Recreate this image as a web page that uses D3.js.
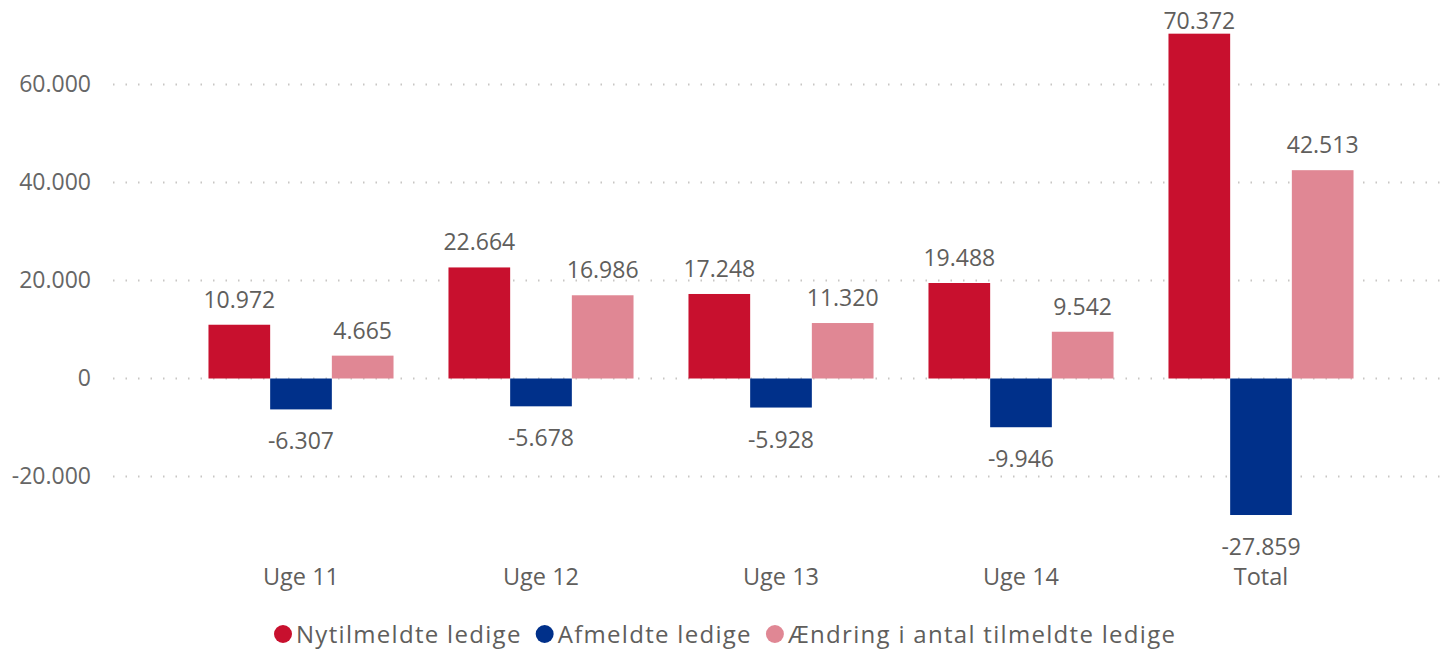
<!DOCTYPE html>
<html><head><meta charset="utf-8">
<script src="https://cdn.jsdelivr.net/npm/d3@7"></script>
<style>body{margin:0;background:#fff;}svg{display:block;font-family:"Open Sans","Noto Sans",sans-serif;}</style>
</head><body>
<svg id="chart" width="1447" height="651"></svg>
<script>
const categories = ["Uge 11", "Uge 12", "Uge 13", "Uge 14", "Total"];
const seriesNames = ["Nytilmeldte ledige", "Afmeldte ledige", "Ændring i antal tilmeldte ledige"];
const nytilmeldte = [10972, 22664, 17248, 19488, 70372];
const afmeldte = [-6307, -5678, -5928, -9946, -27859];
const aendring = [4665, 16986, 11320, 9542, 42513];
const yTicks = [-20000, 0, 20000, 40000, 60000];
const colors = ["#C8102E", "#00308A", "#E08794"];

const seriesValues = [nytilmeldte, afmeldte, aendring];
const locale = d3.formatLocale({decimal: ",", thousands: ".", grouping: [3], currency: ["", " kr."], minus: "-"});
const fmt = locale.format(",");
const FONT = '"Open Sans","Noto Sans",sans-serif';

const svg = d3.select("#chart");
const y = d3.scaleLinear().domain([-20000, 60000]).range([476.5, 84.5]);
const x0 = d3.scaleBand().domain(categories).range([181, 1381]).paddingInner(0.229).paddingOuter(0.1145);
const x1 = d3.scaleBand().domain(seriesNames).range([0, x0.bandwidth()]);

// gridlines
const grid = svg.append("g");
yTicks.forEach(t => {
  grid.append("line").attr("x1", 113).attr("x2", 1447).attr("y1", y(t)).attr("y2", y(t))
    .attr("stroke", "#C8C6C4").attr("stroke-width", 2).attr("stroke-dasharray", "1.5,11");
});

// y axis
const yAxis = d3.axisLeft(y).tickValues(yTicks).tickSize(0).tickPadding(0).tickFormat(fmt);
const gy = svg.append("g").attr("transform", "translate(91,0)").call(yAxis);
gy.select(".domain").remove();
gy.selectAll("text").attr("fill", "#666").style("font-size", "23px").style("font-family", FONT);

// bars
const groups = svg.append("g").selectAll("g").data(categories).join("g")
  .attr("transform", d => `translate(${x0(d)},0)`);
groups.each(function(cat, ci) {
  const g = d3.select(this);
  seriesNames.forEach((s, si) => {
    const v = seriesValues[si][ci];
    const top = y(Math.max(0, v)), bot = y(Math.min(0, v));
    g.append("rect").attr("x", x1(s)).attr("width", x1.bandwidth())
      .attr("y", top).attr("height", bot - top).attr("fill", colors[si]);
    const ty = v >= 0 ? Math.max(top - 17, 29) : bot + 40;
    g.append("text").attr("x", x1(s) + x1.bandwidth() / 2).attr("y", ty)
      .attr("text-anchor", "middle").attr("fill", "#605E5C").style("font-size", "23px").text(fmt(v));
  });
});

// x axis
const xAxis = d3.axisBottom(x0).tickSize(0).tickPadding(0);
const gx = svg.append("g").attr("transform", "translate(0,568)").call(xAxis);
gx.select(".domain").remove();
gx.selectAll("text").attr("fill", "#605E5C").style("font-size", "23.5px").style("font-family", FONT);

// legend
const legend = svg.append("g").attr("transform", "translate(0,634)");
let lx = 274;
seriesNames.forEach((s, i) => {
  legend.append("circle").attr("cx", lx + 9).attr("cy", 0).attr("r", 9).attr("fill", colors[i]);
  const t = legend.append("text").attr("x", lx + 22).attr("y", 8.5).attr("fill", "#605E5C")
    .style("font-size", "24px").style("letter-spacing", "1.3px").text(s);
  lx += 22 + t.node().getComputedTextLength() + 14;
});
</script>
</body></html>
